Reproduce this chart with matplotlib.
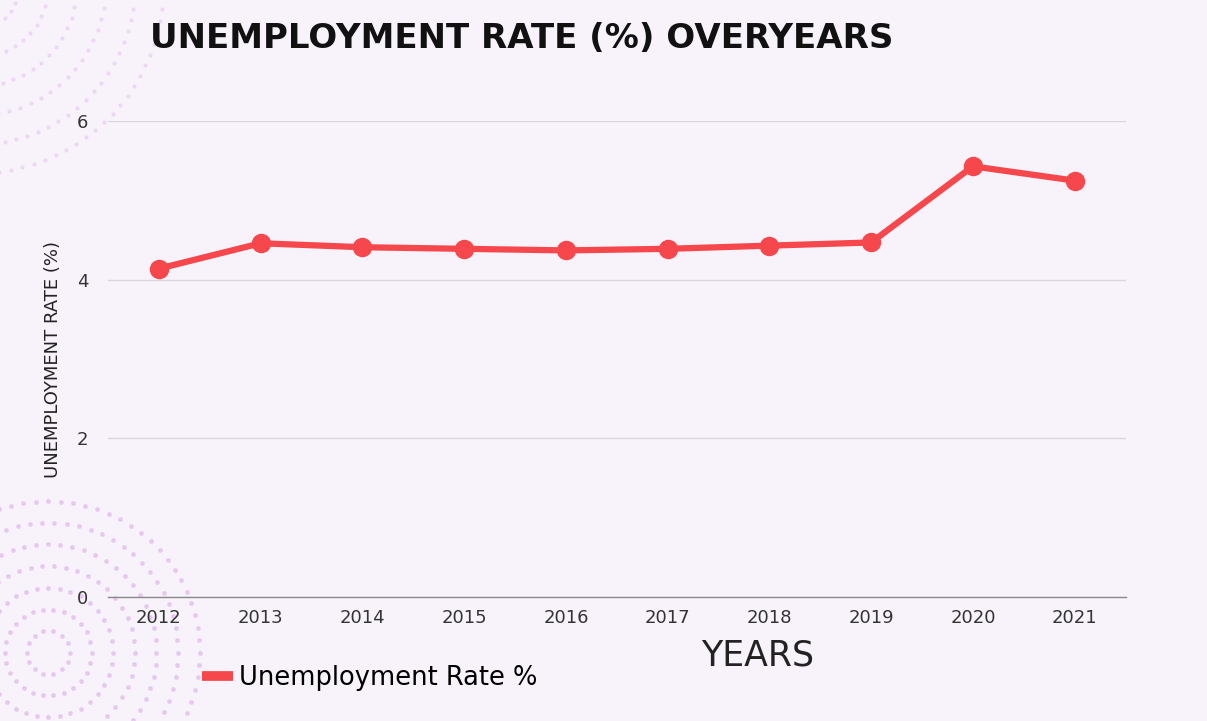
import numpy as np
import matplotlib
matplotlib.use('Agg')
import matplotlib.pyplot as plt
from matplotlib.lines import Line2D

# Unemployment rate by year (%)
years = ['2012', '2013', '2014', '2015', '2016', '2017', '2018', '2019', '2020', '2021']
rate = [4.14, 4.46, 4.41, 4.39, 4.37, 4.39, 4.43, 4.47, 5.43, 5.25]
y_ticks = [0, 2, 4, 6]

BG = '#f8f3fb'
RED = '#f5474c'
DOT = '#d9a8e6'


def draw_dot_rings(fig, cx, cy, radii, n_dots, size, alpha):
    """Faint dotted rings used as background decoration."""
    for r, n in zip(radii, n_dots):
        t = np.linspace(0, 2 * np.pi, n, endpoint=False)
        fig.add_artist(Line2D(
            cx + r * np.cos(t) * 721 / 1207, cy + r * np.sin(t),
            ls='none', marker='o', ms=size, color=DOT, alpha=alpha,
            transform=fig.transFigure, zorder=0))


fig = plt.figure(figsize=(12.07, 7.21), dpi=100, facecolor=BG)

# corner decorations
draw_dot_rings(fig, 0.04, 0.095, [0.03, 0.06, 0.09, 0.12, 0.15, 0.18, 0.21],
               [14, 26, 36, 46, 56, 66, 76], 2.5, 0.45)
draw_dot_rings(fig, -0.02, 1.02, [0.06, 0.10, 0.14, 0.18, 0.22, 0.26],
               [30, 44, 58, 72, 86, 100], 2.2, 0.25)

ax = fig.add_axes([0.0895, 0.172, 0.843, 0.66])
ax.set_facecolor('none')

x = np.arange(len(years))
ax.plot(x, rate, color=RED, lw=4.5, marker='o', ms=13,
        solid_capstyle='round', label='Unemployment Rate %', zorder=3)

ax.set_xlim(-0.5, len(years) - 0.5)
ax.set_ylim(0, 6)
ax.set_xticks(x)
ax.set_xticklabels(years, fontsize=13, color='#333333')
ax.set_yticks(y_ticks)
ax.set_yticklabels([str(v) for v in y_ticks], fontsize=13, color='#333333')
ax.tick_params(length=0, pad=9)
ax.tick_params(axis='y', pad=14)

ax.grid(axis='y', color='#d9d5df', lw=1)
ax.set_axisbelow(True)
for side in ['top', 'right', 'left']:
    ax.spines[side].set_visible(False)
ax.spines['bottom'].set_color('#8a8a8a')
ax.spines['bottom'].set_linewidth(1)
ax.spines['bottom'].set_zorder(2)

ax.set_ylabel('UNEMPLOYMENT RATE (%)', fontsize=13, color='#222222',
              family=['Liberation Sans Narrow', 'DejaVu Sans'], labelpad=11)
fig.text(0.628, 0.091, 'YEARS', fontsize=25, color='#222222',
         ha='center', va='center')

fig.text(0.124, 0.946, 'UNEMPLOYMENT RATE (%) OVERYEARS', fontsize=24.5,
         fontweight='bold', color='#111111', ha='left', va='center')

# legend with a short solid swatch
handle = Line2D([], [], color=RED, lw=7, solid_capstyle='butt')
fig.legend([handle], ['Unemployment Rate %'], loc='center left',
           bbox_to_anchor=(0.148, 0.06), frameon=False,
           handlelength=1.2, handletextpad=0.25,
           prop={'size': 18.5})

fig.savefig('out.png', dpi=100, facecolor=BG)
